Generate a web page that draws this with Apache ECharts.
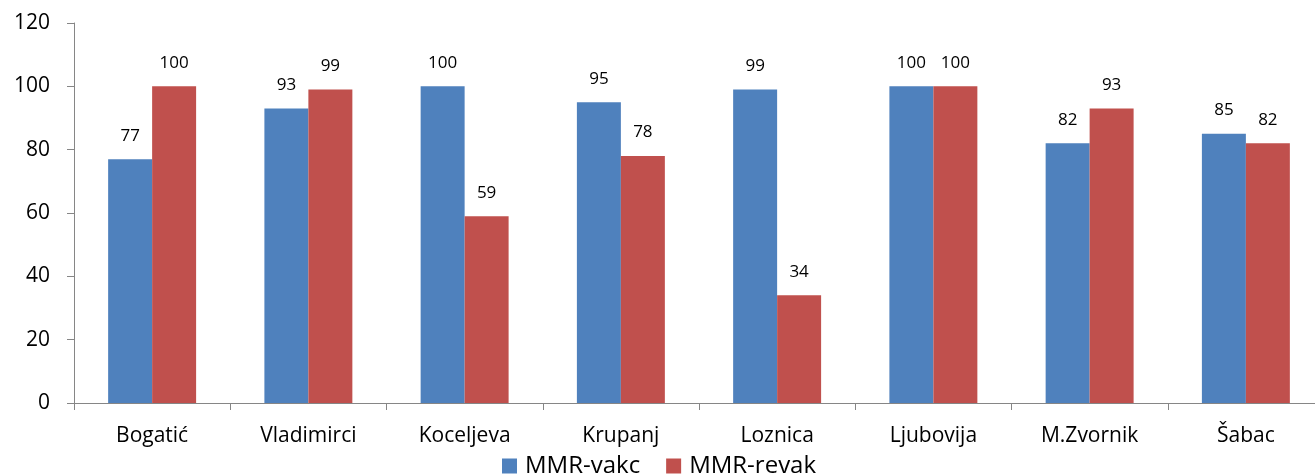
<!DOCTYPE html>
<html><head><meta charset="utf-8">
<script src="https://cdn.jsdelivr.net/npm/echarts@6/dist/echarts.min.js"></script>
<style>html,body{margin:0;padding:0;background:#fff;overflow:hidden;width:1315px;height:474px}#c{width:1330px;height:474px}</style>
</head><body><div id="c"></div>
<script>
var categories = ['Bogatić','Vladimirci','Koceljeva','Krupanj','Loznica','Ljubovija','M.Zvornik','Šabac'];
var vakc = [77,93,100,95,99,100,82,85];
var revak = [100,99,59,78,34,100,93,82];
var seriesNames = ['MMR-vakc','MMR-revak'];
var yTicks = [0,20,40,60,80,100,120];

var chart = echarts.init(document.getElementById('c'));
var font = 'Open Sans, Liberation Sans, sans-serif';
chart.setOption({
  animation:false,
  textStyle:{fontFamily:font},
  grid:{left:74,top:23,height:380,width:1250,containLabel:false},
  legend:{bottom:-9,left:497,itemWidth:15,itemHeight:15,itemGap:26,icon:'rect',
    textStyle:{fontSize:24,color:'#000',fontFamily:font,padding:[0,0,0,3]},data:seriesNames},
  xAxis:{type:'category',data:categories,
    axisLine:{lineStyle:{color:'#868686',width:1}},
    axisTick:{show:true,length:7,lineStyle:{color:'#868686'}},
    axisLabel:{fontSize:21,color:'#000',margin:23,fontFamily:font}},
  yAxis:{type:'value',min:yTicks[0],max:yTicks[yTicks.length-1],interval:20,
    splitLine:{show:false},
    axisLine:{show:true,lineStyle:{color:'#868686'}},
    axisTick:{show:true,length:7,lineStyle:{color:'#868686'}},
    axisLabel:{fontSize:21,color:'#000',margin:24,fontFamily:font}},
  series:[
    {name:seriesNames[0],type:'bar',data:vakc,barGap:'0%',barCategoryGap:'43.7%',
     itemStyle:{color:'#4F81BD'},
     label:{show:true,position:'top',distance:15,fontSize:17,color:'#000',fontFamily:font}},
    {name:seriesNames[1],type:'bar',data:revak,
     itemStyle:{color:'#C0504D'},
     label:{show:true,position:'top',distance:15,fontSize:17,color:'#000',fontFamily:font}}
  ]
});
</script></body></html>
